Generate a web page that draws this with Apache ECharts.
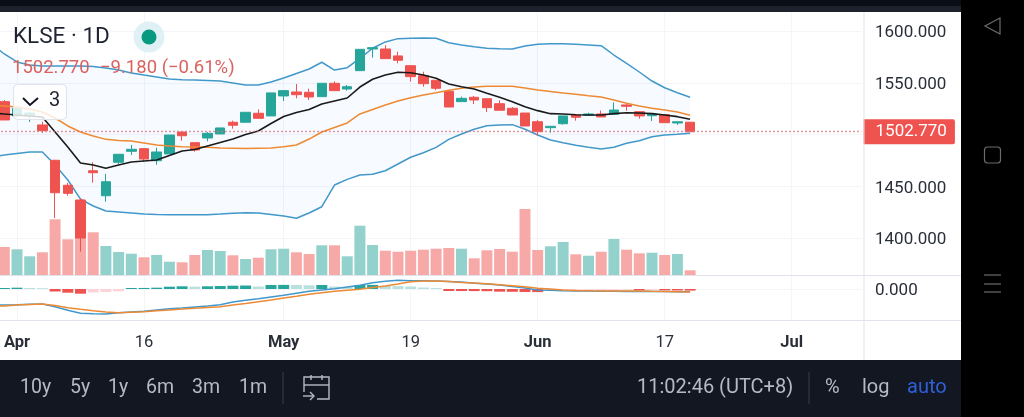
<!DOCTYPE html>
<html>
<head>
<meta charset="utf-8">
<style>html,body{margin:0;padding:0;background:#000;overflow:hidden}#chart{width:1024px;height:417px}</style>
<script src="https://cdn.jsdelivr.net/npm/echarts@6/dist/echarts.min.js"></script>
</head>
<body>
<div id="chart"></div>
<script>
// 日线数据，从图上读的
var opens = [1540,1531.8,1518,1518,1509.3,1475.2,1451.1,1436.9,1465.1,1441,1473.3,1483.9,1486.4,1474.8,1481.3,1502.5,1492.2,1496.7,1500.6,1511.9,1511.9,1520.6,1518,1537.3,1541.1,1540.8,1536.6,1549.5,1544,1561.7,1582.6,1582.6,1575.9,1566.5,1556.9,1552.4,1541.8,1531.8,1536,1534.6,1529.8,1525.4,1520.8,1512.4,1506.7,1510.5,1518.9,1518.6,1519.9,1519.6,1528.6,1522.1,1518.2,1519.2,1511.2,1511.95];
var closes = [1533.4,1514.1,1525.2,1520.8,1503.8,1443.9,1443.3,1400.2,1463.2,1454.5,1481,1485.8,1476.4,1483.2,1499.6,1498.9,1485.1,1501.2,1506.4,1509,1521.5,1515.7,1540.2,1542.4,1538.5,1536.3,1549.5,1542.4,1546.2,1582.3,1583.9,1573.3,1571.7,1555.9,1549.1,1544.7,1526.6,1535,1533.4,1526,1523.5,1518.9,1508.3,1502.8,1508,1518,1516.7,1519.9,1517,1523.7,1527.3,1518,1519.9,1511.5,1512.4,1502.77];
var highs = [1541,1533.4,1526,1521.8,1512.4,1475.6,1453.3,1438.8,1473.3,1462,1481,1490,1487.1,1487.3,1499.6,1503,1492.2,1502.5,1506.4,1513.4,1521.5,1524.4,1540.2,1542.4,1548.8,1544.3,1549.5,1551.4,1547.9,1582.3,1583.9,1586.2,1580,1566.5,1560.7,1552.4,1541.8,1536.6,1537.3,1534.6,1533.1,1526.6,1520.8,1514.1,1508,1518,1519.6,1521.1,1523.1,1531.2,1529.5,1522.1,1519.9,1519.2,1512.4,1512];
var lows = [1530,1514.1,1517,1512.2,1501.5,1419.5,1441,1387,1453.6,1435.2,1471.6,1480.3,1473.8,1470.9,1481.3,1494.1,1483.5,1493.5,1500.6,1505.7,1511.9,1515.7,1518,1532.4,1535,1533.4,1536.6,1542.4,1542.4,1561.7,1574.2,1573.3,1568.8,1551.1,1546.2,1542.8,1526.6,1531.8,1529.5,1521.8,1523.5,1518.9,1508.3,1498.9,1501.8,1509.6,1513.4,1518.6,1517,1519.6,1523.1,1515.3,1513.1,1511.5,1509.3,1502.77];
var volumes = [26,28,25.7,18.7,22.7,55.7,35.7,37.7,42.7,29,23,21.3,17.7,20,13.3,12.7,20,25,24,19.7,16,17.3,25.7,26.3,22.7,21,29.7,29.7,18.7,49.3,30,24.3,23.3,24.3,25.3,26.3,27,26.3,16.7,24.7,26,23.3,66,25,28.7,33,20.7,19.3,23.3,36,25.3,21.7,22.3,20,21,4.7];
// 布林带
var bbUpper = [1587.4,1577.8,1570.1,1567.2,1566.2,1566.2,1566.2,1566.2,1565.7,1564.3,1562.3,1559.5,1557.5,1555.6,1553.7,1553,1552.7,1552.2,1551.7,1549.8,1547.9,1547.9,1550.8,1554.6,1559,1563.3,1569.8,1562.3,1564.6,1573.6,1583.3,1589.4,1592.6,1593,1593.2,1593,1588.7,1586.5,1584.8,1583.3,1582.9,1582.6,1585.5,1587.2,1587.7,1587.7,1587.2,1586.5,1585.8,1576.8,1568.8,1560.4,1551.7,1545.2,1540.4,1536];
var bbLower = [1478.4,1480.3,1481.8,1483.2,1483.2,1470.6,1456.2,1437.8,1431.1,1426.2,1425.3,1424.3,1423.3,1422.9,1422.7,1422.7,1422.7,1422.7,1423.3,1424,1424.6,1424.3,1422.9,1421.4,1419.2,1424.3,1430.4,1451.3,1456.8,1461,1461.7,1465.1,1471.6,1478.1,1482.5,1487.7,1495.4,1500.6,1505.1,1508.6,1509.3,1509.6,1505.1,1499.6,1494.8,1492.2,1489.7,1487.7,1486.1,1487.7,1491.6,1494.1,1498,1499.6,1500.3,1501.2];
var maBlack = [1520.8,1519.9,1518.9,1517.9,1517,1502.5,1488,1472.6,1470.6,1467.5,1470.6,1473.5,1474.5,1475.5,1479.8,1484.2,1485.6,1489,1492.4,1495.7,1500.1,1503.5,1510.7,1517.5,1521.3,1524.2,1529.5,1532.4,1535.3,1545.9,1553.4,1557.5,1560.1,1559.7,1557.5,1554.3,1548.8,1546.2,1544,1539.9,1536,1531.7,1526.9,1523.1,1520.2,1519.9,1519.2,1518.9,1518.9,1520.2,1521.1,1520.8,1520.2,1518.9,1517.3,1514.8];
var maOrange = [1528.6,1527.6,1526.6,1524.7,1521.8,1516,1508.3,1502.5,1498.6,1495.4,1494.3,1493.8,1491.9,1490,1489,1488.3,1488,1487.7,1487,1486.8,1486.6,1486.8,1487,1488.3,1490,1495.7,1502.5,1506.8,1511.2,1519.9,1524.2,1528.6,1532.4,1535.6,1538.2,1540.4,1542.7,1544.7,1545.9,1546.6,1546.7,1546.6,1545,1543,1541.6,1540.1,1538.9,1537.5,1536.3,1533.4,1530.2,1527.6,1525.4,1523.7,1521.8,1518.6];
// MACD
var macdHist = [0.8,1,1.3,1,0.8,-2.5,-3.7,-4.7,-3.5,-3,-2.3,1,1.05,1.3,2.3,2.7,2.3,2.7,3,3.3,3.5,2.5,4,4.1,4,3.7,4,2.5,2,4,4.1,3,2.9,2.5,1.5,1,-2,-2.05,-2.1,-2.2,-2.7,-2.8,-3,-3.1,-1.5,-1.3,-1.2,-1.1,-1,-0.9,-0.8,-1.3,-1.1,-1.3,-1.5,-1.6];
var macdLine = [-16.3,-16,-15.7,-15.3,-15,-17.7,-21.3,-24.3,-24.7,-25,-23.7,-23,-22.3,-21,-19.7,-19,-18,-17,-15.7,-13,-11.3,-9.7,-8,-6.3,-4.3,-2.3,-1,0.3,2,3.7,6.3,7.7,8.7,8.3,8.2,8,7.5,7,5.8,5,4,2.5,1,-1,-1.3,-1.7,-2,-2,-2.3,-2.3,-2.4,-2.5,-2.5,-2.6,-2.7,-2.8];
var macdSignal = [-17,-17,-16,-15.5,-15,-16.5,-18.7,-20.3,-21.8,-23,-23.7,-23.2,-22.7,-21.8,-21,-20,-19.3,-18.5,-17.7,-16,-14.5,-12.7,-11,-9,-7.2,-5.3,-3.8,-2.3,-1.2,-0.3,1.5,3,5,7.3,8,8,7.5,6.5,6,5.2,4.3,3.3,2.3,0.7,0,-1,-1.5,-1.8,-2,-2,-2,-2,-2.3,-2.5,-2.8,-3];

var tickPos = [2,12,23,33,43,53,63];
var tickLabels = ['Apr','16','May','19','Jun','17','Jul'];
var boldLabels = ['Apr','May','Jun','Jul'];
var priceTicks = [1400,1450,1500,1550,1600];
var priceLabels = [1400,1450,1550,1600];
var lastPrice = 1502.77;
var slotCount = 69;

var categories = [];
for (var i = 0; i < slotCount; i++) {
  var p = tickPos.indexOf(i);
  categories.push(p >= 0 ? tickLabels[p] : '');
}

var upColor = '#26a69a', downColor = '#ef5350';
var textDark = '#2a2e39';
var bbBlue = '#4298cb';
var gridColor = '#f3f5f9';
var font = 'Roboto';

var candleData = opens.map(function (o, i) { return [o, closes[i], lows[i], highs[i]]; });
var volData = volumes.map(function (v, i) {
  return { value: v, itemStyle: { color: closes[i] >= opens[i] ? '#93d2cc' : '#f7a9a7' } };
});
var histData = macdHist.map(function (v, i) {
  var prev = i > 0 ? macdHist[i - 1] : v;
  var color;
  if (v >= 0) color = v >= prev ? upColor : '#b8e0dc';
  else color = v <= prev ? downColor : '#fcd3d6';
  return { value: v, itemStyle: { color: color } };
});
var bbGap = bbUpper.map(function (v, i) { return v - bbLower[i]; });

function isTick(i) { return tickPos.indexOf(i) >= 0; }

function xAxisFor(gridIndex, showLabel) {
  return {
    type: 'category', gridIndex: gridIndex, data: categories, boundaryGap: true,
    axisLine: { show: false }, axisTick: { show: false },
    splitLine: { show: true, interval: isTick, alignWithLabel: true, lineStyle: { color: gridColor, width: 1 } },
    axisLabel: {
      show: showLabel, interval: isTick, margin: 14, fontFamily: font, fontSize: 16.5, color: textDark,
      formatter: function (v) { return boldLabels.indexOf(v) >= 0 ? '{b|' + v + '}' : v; },
      rich: { b: { fontFamily: font, fontSize: 16.5, fontWeight: 'bold', color: textDark } }
    }
  };
}

// 价格轴文字要往下挪一点，用 rich 的 padding
function priceAxisLabel(values) {
  return {
    customValues: values, margin: 11,
    formatter: function (v) { return '{v|' + v.toFixed(3) + '}'; },
    rich: { v: { fontFamily: font, fontSize: 17, color: textDark, padding: [4, 0, 0, 0] } }
  };
}

function lineSeries(name, data, color, width, xi, yi, z) {
  return { name: name, type: 'line', data: data, xAxisIndex: xi, yAxisIndex: yi, showSymbol: false, silent: true, z: z,
    lineStyle: { color: color, width: width } };
}

function text(str, x, y, size, color, extra) {
  var style = { text: str, x: x, y: y, fontFamily: font, fontSize: size, fill: color, textVerticalAlign: 'middle' };
  for (var k in extra) style[k] = extra[k];
  return { type: 'text', z: 100, style: style, silent: true };
}
function rect(x, y, w, h, fill, r) {
  return { type: 'rect', z: 90, silent: true, shape: { x: x, y: y, width: w, height: h, r: r || 0 }, style: { fill: fill } };
}
function seg(x1, y1, x2, y2, color, w) {
  return { type: 'line', z: 95, silent: true, shape: { x1: x1, y1: y1, x2: x2, y2: y2 }, style: { stroke: color, lineWidth: w } };
}
function poly(points, color, w, closed) {
  return { type: closed ? 'polygon' : 'polyline', z: 100, silent: true, shape: { points: points }, style: { stroke: color, fill: null, lineWidth: w } };
}

var toolText = '#b7bac3';
var navIcon = '#6b6b6b';

var chart = echarts.init(document.getElementById('chart'));
var option = {
  animation: false,
  backgroundColor: '#fff',
  textStyle: { fontFamily: font },
  grid: [
    { left: -14.75, width: 876.3, top: 12, height: 263, outerBoundsMode: 'none' },
    { left: -14.75, width: 876.3, top: 275, height: 45, outerBoundsMode: 'none' }
  ],
  xAxis: [xAxisFor(0, false), xAxisFor(1, true)],
  yAxis: [
    {
      type: 'value', gridIndex: 0, position: 'right', offset: 2.45, min: 1364.5, max: 1618.3, scale: true,
      axisLine: { show: false },
      axisTick: { show: false, customValues: priceTicks },
      splitLine: { show: true, lineStyle: { color: gridColor, width: 1 } },
      axisLabel: priceAxisLabel(priceLabels)
    },
    { type: 'value', gridIndex: 0, min: 0, max: 263, show: false, splitLine: { show: false } },
    {
      type: 'value', gridIndex: 1, position: 'right', offset: 2.45, min: -31, max: 14,
      axisLine: { show: false },
      axisTick: { show: false, customValues: [0] },
      splitLine: { show: true, lineStyle: { color: gridColor, width: 1 } },
      axisLabel: priceAxisLabel([0])
    }
  ],
  series: [
    { name: '成交量', type: 'bar', data: volData, xAxisIndex: 0, yAxisIndex: 1, barWidth: 11, silent: true, z: 1 },
    { name: 'BB下轨', type: 'line', stack: 'bb', data: bbLower, xAxisIndex: 0, yAxisIndex: 0, showSymbol: false, silent: true, z: 2,
      lineStyle: { color: bbBlue, width: 1.5 } },
    { name: 'BB上轨', type: 'line', stack: 'bb', data: bbGap, xAxisIndex: 0, yAxisIndex: 0, showSymbol: false, silent: true, z: 2,
      lineStyle: { color: bbBlue, width: 1.5 }, areaStyle: { color: 'rgba(33,120,220,0.05)' } },
    {
      name: 'KLSE', type: 'candlestick', data: candleData, xAxisIndex: 0, yAxisIndex: 0, barWidth: 10, silent: true, z: 3,
      itemStyle: { color: upColor, color0: downColor, borderColor: upColor, borderColor0: downColor, borderWidth: 1 },
      markLine: {
        silent: true, symbol: 'none', animation: false,
        label: { position: 'end', distance: 2, formatter: function () { return lastPrice.toFixed(3); },
          backgroundColor: downColor, color: '#fff', fontFamily: font, fontSize: 17, padding: [6, 8, 2, 12], borderRadius: [0, 2, 2, 0] },
        data: [{ yAxis: lastPrice, lineStyle: { color: '#dc7480', type: [1.5, 2.5], width: 1.3 } }]
      }
    },
    lineSeries('MA慢', maOrange, '#ee8a33', 1.5, 0, 0, 4),
    lineSeries('MA快', maBlack, '#1a1a1a', 1.6, 0, 0, 4),
    { name: '柱', type: 'bar', data: histData, xAxisIndex: 1, yAxisIndex: 2, barWidth: 11, silent: true, z: 1 },
    lineSeries('MACD', macdLine, bbBlue, 1.5, 1, 2, 3),
    lineSeries('Signal', macdSignal, '#ee8a33', 1.5, 1, 2, 4)
  ],
  graphic: { elements: [
    // 外框
    rect(0, 0, 1024, 6, '#0b0e16'),
    rect(0, 6, 961, 6, '#1e222d'),
    rect(961, 0, 63, 417, '#000'),
    rect(0, 360, 961, 57, '#131722'),
    seg(0, 275.5, 961, 275.5, '#e0e3eb', 1),
    seg(0, 320.5, 961, 320.5, '#e0e3eb', 1),
    seg(864, 12, 864, 360, '#e0e3eb', 1),
    // 左上图例
    text('KLSE · 1D', 13, 37, 22.5, '#1f2230'),
    { type: 'circle', z: 99, silent: true, shape: { cx: 149, cy: 37, r: 15.5 }, style: { fill: '#dff1f4' } },
    { type: 'circle', z: 100, silent: true, shape: { cx: 149, cy: 37, r: 7.5 }, style: { fill: '#089981' } },
    text('1502.770', 12, 68, 18.5, '#d9625f'),
    text('−9.180 (−0.61%)', 100, 68, 18.5, '#d9625f'),
    { type: 'rect', z: 98, silent: true, shape: { x: 13.5, y: 84.5, width: 53, height: 35, r: 4 },
      style: { fill: 'rgba(255,255,255,0.82)', stroke: '#e0e3eb', lineWidth: 1 } },
    poly([[23, 98], [30, 105], [38, 98]], '#131722', 2),
    text('3', 49, 101, 20, '#1f2230'),
    // 底部工具栏
    text('10y', 20, 388, 19.5, toolText),
    text('5y', 70, 388, 19.5, toolText),
    text('1y', 108, 388, 19.5, toolText),
    text('6m', 146, 388, 19.5, toolText),
    text('3m', 192, 388, 19.5, toolText),
    text('1m', 239, 388, 19.5, toolText),
    seg(283, 372, 283, 404, '#3a3e4a', 1),
    poly([[304, 392], [304, 377], [329, 377], [329, 399], [317, 399]], toolText, 1.4),
    seg(304, 385, 329, 385, toolText, 1.4),
    seg(311, 375, 311, 380, toolText, 1.4),
    seg(322, 375, 322, 380, toolText, 1.4),
    seg(303, 396, 314, 396, toolText, 1.4),
    poly([[310, 392], [314, 396], [310, 400]], toolText, 1.4),
    text('11:02:46 (UTC+8)', 637, 388, 20, toolText),
    seg(809, 372, 809, 404, '#3a3e4a', 1),
    text('%', 825, 388, 20, toolText),
    text('log', 862, 388, 20, toolText),
    text('auto', 907, 388, 20, '#2f5fd8'),
    // 手机导航键
    poly([[1000, 18], [985, 26], [1000, 34]], navIcon, 1.2, true),
    { type: 'rect', z: 100, silent: true, shape: { x: 984.5, y: 147, width: 16, height: 16, r: 3 }, style: { stroke: navIcon, fill: null, lineWidth: 1.2 } },
    seg(984, 275, 1001, 275, navIcon, 1.2),
    seg(984, 284, 1001, 284, navIcon, 1.2),
    seg(984, 292, 1001, 292, navIcon, 1.2)
  ] }
};
chart.setOption(option);
</script>
</body>
</html>
